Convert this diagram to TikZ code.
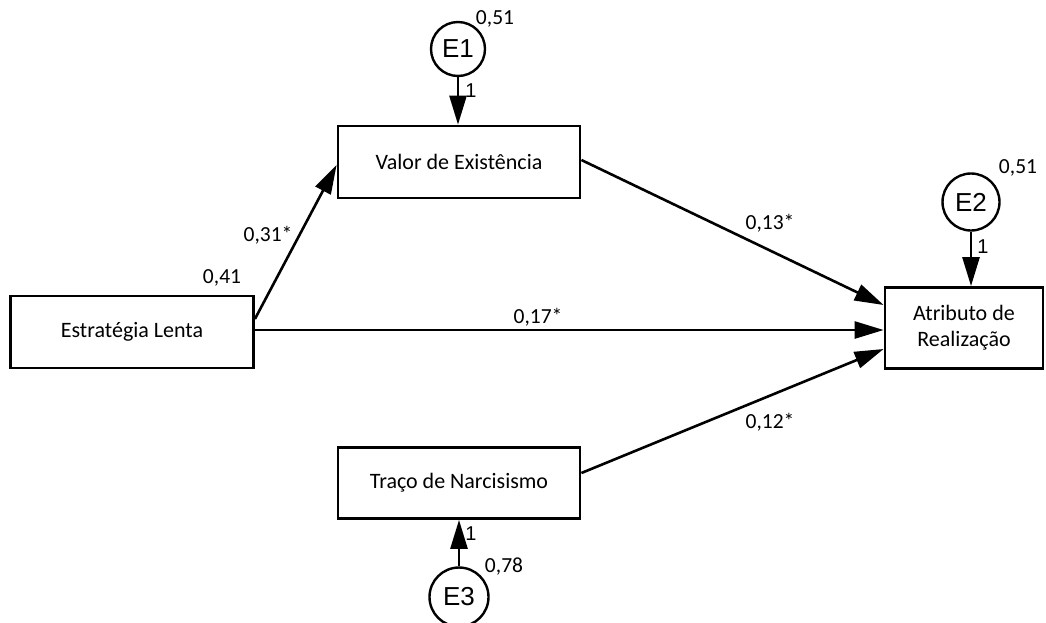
\documentclass[tikz,border=0pt]{standalone}
\usepackage{fontspec}
\setmainfont{Carlito}
\newfontfamily\arialfont{Liberation Sans}
\usetikzlibrary{arrows.meta}
\begin{document}
\begin{tikzpicture}[x=1pt,y=-1pt,
  box/.style={draw, line width=2.8pt, rectangle, inner sep=0pt, font=\fontsize{22}{26}\selectfont, align=center},
  err/.style={draw, circle, line width=2.4pt, inner sep=0pt, font=\arialfont\fontsize{26}{28}\selectfont},
  conn/.style={line width=2.6pt, -{Triangle[length=29pt,width=17pt]}},
  lbl/.style={font=\fontsize{21.5}{24}\selectfont, anchor=base, inner sep=0pt},
  one/.style={font=\arialfont\fontsize{20}{22}\selectfont, anchor=base, inner sep=0pt},
]
\useasboundingbox (0,0) rectangle (1046,622);
\clip (0,0) rectangle (1046,622);

\node[box, minimum width=242pt, minimum height=72pt] (val) at (459,162) {Valor de Existência};
\node[box, minimum width=243pt, minimum height=72pt] (est) at (132,332) {Estratégia Lenta};
\node[box, minimum width=158pt, minimum height=81pt] (atr) at (964,328) {Atributo de\\Realização};
\node[box, minimum width=242pt, minimum height=71pt] (trc) at (459,483) {Traço de Narcisismo};

\node[err, minimum size=54pt] (e1) at (458,49) {E1};
\node[err, minimum size=57pt] (e2) at (971,202) {E2};
\node[err, minimum size=59pt] (e3) at (459,597) {E3};

\draw[conn] ([yshift=13pt]est.east) -- ([yshift=-3pt]val.west);
\draw[conn] ([yshift=2pt]val.east) -- ([yshift=23pt]atr.west);
\draw[conn] ([yshift=2pt]est.east) -- ([yshift=2pt]est.east -| atr.west);
\draw[conn] ([yshift=10pt]trc.east) -- ([yshift=-21pt]atr.west);
\draw[conn] (e1.south) -- (e1.south |- val.north);
\draw[conn] (e2.south) -- (e2.south |- atr.north);
\draw[conn] (e3.north) -- (e3.north |- trc.south);

\node[lbl] (l1) at (495,24) {0,51};
\node[lbl] (l2) at (1018,173) {0,51};
\node[lbl] (l3) at (504,572) {0,78};
\node[lbl] (l4) at (222,283) {0,41};
\node[lbl] (l5) at (268,241) {0,31*};
\node[lbl] (l6) at (770,229) {0,13*};
\node[lbl] (l7) at (538,323) {0,17*};
\node[lbl] (l8) at (770,428) {0,12*};
\node[one] (o1) at (471,97) {1};
\node[one] (o2) at (983,253) {1};
\node[one] (o3) at (471,540) {1};
\end{tikzpicture}
\end{document}
